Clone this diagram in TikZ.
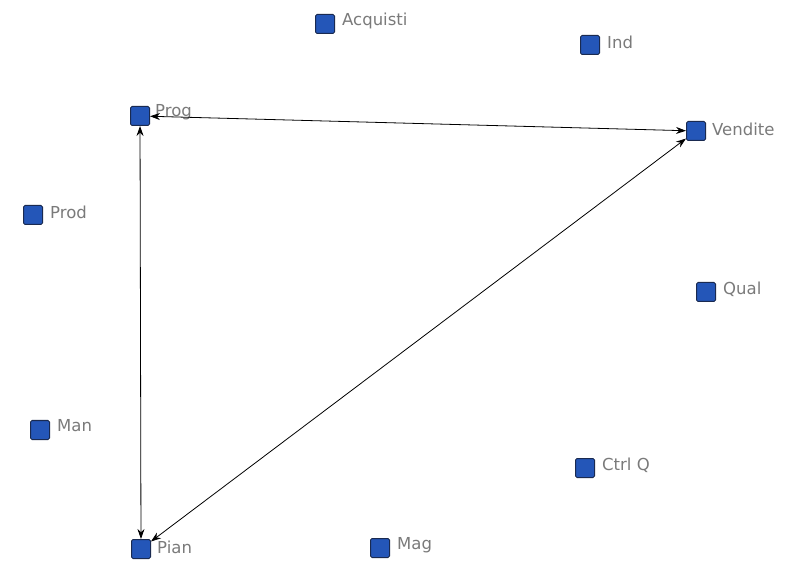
\documentclass[tikz,border=0pt]{standalone}
\usepackage{fontspec}
\setmainfont{DejaVu Sans}
\usetikzlibrary{arrows.meta}
\definecolor{sqfill}{HTML}{2456B8}
\definecolor{sqdraw}{HTML}{1A2A50}
\definecolor{lbl}{HTML}{7A7A7A}
\tikzset{
  sq/.style={draw=sqdraw, line width=1pt, fill=sqfill, minimum size=19pt, inner sep=0pt, rounded corners=1.5pt},
  lab/.style={anchor=west, text=lbl, font=\fontsize{16.5}{18}\selectfont, inner sep=0pt},
  link/.style={draw=black, line width=0.8pt, {Stealth[length=10pt,width=7pt]}-{Stealth[length=10pt,width=7pt]}}
}
\begin{document}
\begin{tikzpicture}[x=1pt,y=-1pt]
\useasboundingbox (0,0) rectangle (793,561);
\node[sq] (acq) at (325,24) {};
\node[lab] (acqL) at (342,21) {Acquisti};
\node[sq] (ind) at (590,45) {};
\node[lab] (indL) at (607,42) {Ind};
\node[sq] (prog) at (140,116) {};
\node[lab] (progL) at (155,112) {Prog};
\node[sq] (vend) at (696,131) {};
\node[lab] (vendL) at (712,129) {Vendite};
\node[sq] (prod) at (33,215) {};
\node[lab] (prodL) at (50,212) {Prod};
\node[sq] (qual) at (706,292) {};
\node[lab] (qualL) at (723,289) {Qual};
\node[sq] (man) at (40,430) {};
\node[lab] (manL) at (57,426) {Man};
\node[sq] (ctrl) at (585,468) {};
\node[lab] (ctrlL) at (602,465) {Ctrl Q};
\node[sq] (pian) at (141,549) {};
\node[lab] (pianL) at (157,547) {Pian};
\node[sq] (mag) at (380,548) {};
\node[lab] (magL) at (397,545) {Mag};
\draw[link] (prog) -- (vend);
\draw[link] (prog) -- (pian);
\draw[link] (pian) -- (vend);
\end{tikzpicture}
\end{document}
